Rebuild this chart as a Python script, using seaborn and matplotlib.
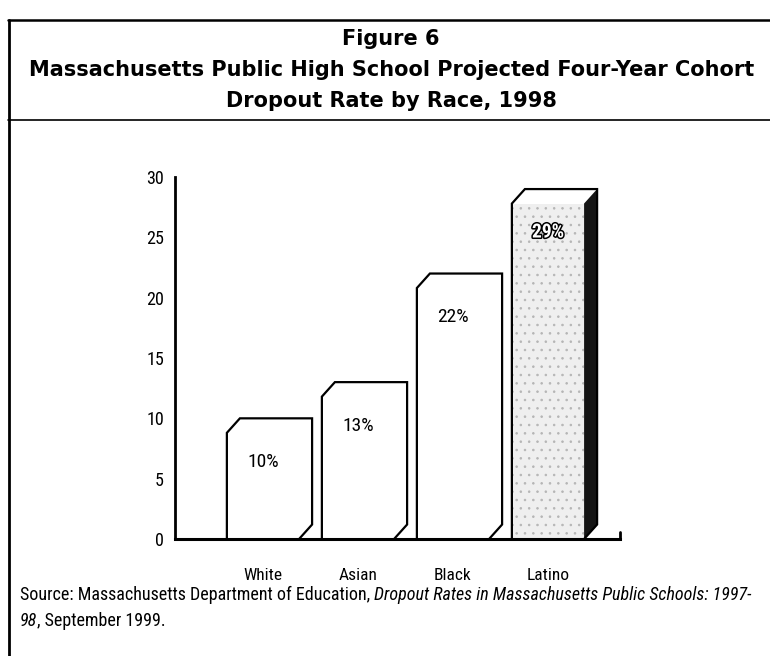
import matplotlib
matplotlib.use("Agg")
import matplotlib.pyplot as plt
import matplotlib.patheffects as pe
from matplotlib.lines import Line2D
from matplotlib.patches import Polygon
import seaborn as sns
import pandas as pd

# =====================================
# DATA
# =====================================

races = ["White", "Asian", "Black", "Latino"]

rates = [10, 13, 22, 29]

rate_labels = ["10%", "13%", "22%", "29%"]

y_ticks = [0, 5, 10, 15, 20, 25, 30]

title_lines = [
    "Figure 6",
    "Massachusetts Public High School Projected Four-Year Cohort",
    "Dropout Rate by Race, 1998"
]

# =====================================
# STYLE
# =====================================

sns.set_style("white")
NARROW = ["Roboto Condensed", "Roboto", "DejaVu Sans"]
plt.rcParams["font.family"] = NARROW
plt.rcParams["hatch.linewidth"] = 0.6
for key in ["text.color", "axes.labelcolor", "xtick.color", "ytick.color", "axes.edgecolor"]:
    plt.rcParams[key] = "black"

W, H = 770, 656
DX = 0.137   # depth of the fake 3D, in category units
DY = 1.2     # depth of the fake 3D, in data units

fig = plt.figure(figsize=(W / 100, H / 100), dpi=100)
fig.patch.set_facecolor("white")

ax = fig.add_axes([175 / W, 1 - 539 / H, 445 / W, 362 / H])

df = pd.DataFrame({"Race": races, "Rate": rates})

sns.barplot(
    data=df,
    x="Race",
    y="Rate",
    order=races,
    width=0.76,
    color="white",
    edgecolor="none",
    errorbar=None,
    ax=ax
)

# =====================================
# 3D LOOK ON THE BARS
# =====================================

for i, p in enumerate(ax.patches):
    x0 = p.get_x()
    w = p.get_width()
    x1 = x0 + w
    v = p.get_height()
    h = v - DY
    p.set_height(h)
    p.set_linewidth(0)

    if races[i] == "Latino":
        p.set_facecolor("#efefef")
        p.set_hatch("..")
        p.set_edgecolor("#b5b5b5")
        p.set_linewidth(0)
        side = Polygon(
            [(x1, 0), (x1, h), (x1 + DX, v), (x1 + DX, DY)],
            closed=True, facecolor="#151515", edgecolor="none", zorder=2
        )
        ax.add_patch(side)

    xs = [x0, x0, x0 + DX, x1 + DX, x1 + DX, x1]
    ys = [0, h, v, v, DY, 0]
    ax.plot(xs, ys, color="black", lw=1.6, solid_joinstyle="miter", zorder=3)

    latino = races[i] == "Latino"
    txt = ax.text(
        x0 + w / 2,
        v - 3.6,
        rate_labels[i],
        ha="center",
        va="center",
        fontsize=14,
        color="white" if latino else "black",
        fontweight="bold" if latino else "normal",
        zorder=4
    )
    if latino:
        txt.set_path_effects([pe.withStroke(linewidth=2.2, foreground="black")])

# =====================================
# AXES
# =====================================

ax.set_xlim(-0.926, 3.758)
ax.set_ylim(0, 30)
ax.set_yticks(y_ticks)
ax.set_xlabel("")
ax.set_ylabel("")

for s in ["top", "right"]:
    ax.spines[s].set_visible(False)
ax.spines["left"].set_linewidth(2)
ax.spines["bottom"].set_linewidth(2.2)

ax.tick_params(axis="y", direction="in", length=8, width=1.6, pad=8, labelsize=13)
ax.tick_params(axis="x", length=0, pad=21, labelsize=12.5)

# small upright tick at the end of the baseline
ax.plot([1, 1], [0, 0.02], transform=ax.transAxes, color="black", lw=2, clip_on=False)

# =====================================
# FRAME AND TITLE
# =====================================

fig.add_artist(Line2D([9 / W, 9 / W], [0, 1 - 20 / H], color="black", lw=2))
fig.add_artist(Line2D([8 / W, 1], [1 - 20 / H, 1 - 20 / H], color="black", lw=1.8))
fig.add_artist(Line2D([8 / W, 1], [1 - 120 / H, 1 - 120 / H], color="black", lw=1.2))

for k, line in enumerate(title_lines):
    fig.text(
        0.508,
        1 - (39 + 31 * k) / H,
        line,
        ha="center",
        va="center",
        fontsize=15,
        fontweight="bold",
        family=["DejaVu Sans"]
    )

# =====================================
# SOURCE NOTE
# =====================================

fig.canvas.draw()
renderer = fig.canvas.get_renderer()

SRC_SIZE = 13


def put_pieces(x_px, y_px, pieces):
    for s, style in pieces:
        t = fig.text(x_px / W, 1 - y_px / H, s, style=style,
                     ha="left", va="center", fontsize=SRC_SIZE)
        bb = t.get_window_extent(renderer=renderer)
        x_px = bb.x1 + 4
    return x_px


put_pieces(20, 595, [
    ("Source: Massachusetts Department of Education,", "normal"),
    ("Dropout Rates in Massachusetts Public Schools: 1997-", "italic"),
])

t98 = fig.text(20 / W, 1 - 621 / H, "98", style="italic",
               ha="left", va="center", fontsize=SRC_SIZE)
bb98 = t98.get_window_extent(renderer=renderer)
fig.text(bb98.x1 / W, 1 - 621 / H, ", September 1999.",
         ha="left", va="center", fontsize=SRC_SIZE)

fig.savefig("out.png", dpi=100)
